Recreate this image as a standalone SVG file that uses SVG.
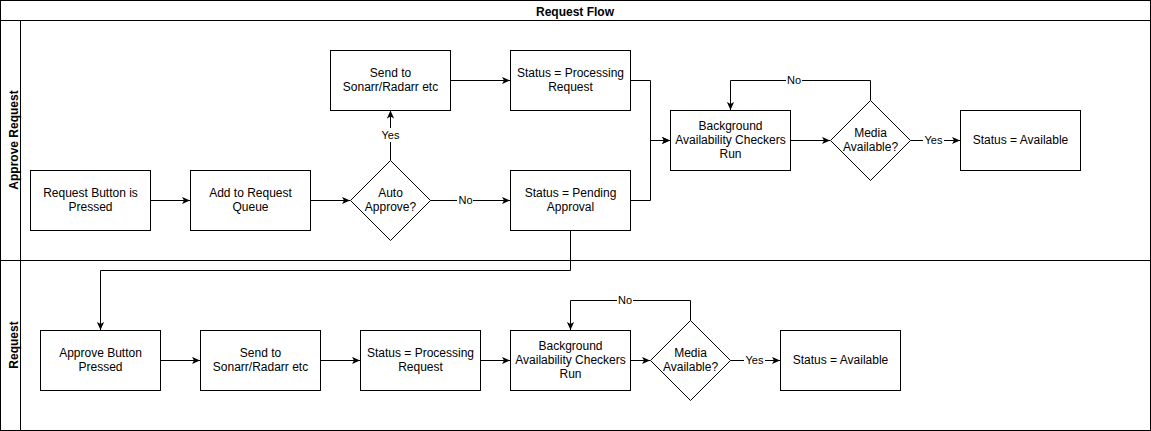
<svg xmlns="http://www.w3.org/2000/svg" width="1151" height="431" viewBox="0 0 1151 431">
<style>
.box{fill:#fff;stroke:#000;stroke-width:1}
.t{font-family:"Liberation Sans",Arial,sans-serif;font-size:12px;fill:#000;text-anchor:middle}
.h{font-family:"Liberation Sans",Arial,sans-serif;font-size:12px;font-weight:bold;fill:#000;text-anchor:middle}
.e{fill:none;stroke:#000;stroke-width:1}
.lbl{font-family:"Liberation Sans",Arial,sans-serif;font-size:11px;fill:#000;text-anchor:middle}
.lb{fill:#fff;stroke:none}
</style>
<defs>
<marker id="arr" viewBox="0 0 10 10" refX="10" refY="5" markerWidth="8" markerHeight="8" markerUnits="userSpaceOnUse" orient="auto">
<path d="M0,0.5 L10,5 L0,9.5 L2.5,5 Z" fill="#000"/>
</marker>
</defs>
<rect width="1151" height="431" fill="#fff"/>
<g id="pool">
<rect class="box" x="0.5" y="0.5" width="1150" height="430"/>
<line class="e" x1="0.5" y1="20.5" x2="1150.5" y2="20.5"/>
<text class="h" x="575" y="16">Request Flow</text>
</g>
<g id="lane-approve">
<rect class="box" x="0.5" y="20.5" width="1150" height="240"/>
<line class="e" x1="20.5" y1="20.5" x2="20.5" y2="260.5"/>
<text class="h" transform="translate(18,140) rotate(-90)">Approve Request</text>
</g>
<g id="lane-request">
<rect class="box" x="0.5" y="260.5" width="1150" height="170"/>
<line class="e" x1="20.5" y1="260.5" x2="20.5" y2="430.5"/>
<text class="h" transform="translate(18,345) rotate(-90)">Request</text>
</g>
<g id="connectors">
<path class="e" d="M150.5,200.5 H190" marker-end="url(#arr)"/>
<path class="e" d="M310.5,200.5 H350" marker-end="url(#arr)"/>
<path class="e" d="M390.5,160.5 V110.5" marker-end="url(#arr)"/>
<path class="e" d="M430.5,200.5 H510" marker-end="url(#arr)"/>
<path class="e" d="M450.5,80.5 H510" marker-end="url(#arr)"/>
<path class="e" d="M630.5,80.5 H650.5 V140.5 H670" marker-end="url(#arr)"/>
<path class="e" d="M630.5,200.5 H650.5 V140.5 H670" marker-end="url(#arr)"/>
<path class="e" d="M790.5,140.5 H830" marker-end="url(#arr)"/>
<path class="e" d="M910.5,140.5 H960" marker-end="url(#arr)"/>
<path class="e" d="M870.5,100.5 V80.5 H730.5 V110" marker-end="url(#arr)"/>
<path class="e" d="M570.5,230.5 V270.5 H100.5 V330" marker-end="url(#arr)"/>
<path class="e" d="M160.5,360.5 H200" marker-end="url(#arr)"/>
<path class="e" d="M320.5,360.5 H360" marker-end="url(#arr)"/>
<path class="e" d="M480.5,360.5 H510" marker-end="url(#arr)"/>
<path class="e" d="M630.5,360.5 H650" marker-end="url(#arr)"/>
<path class="e" d="M730.5,360.5 H780" marker-end="url(#arr)"/>
<path class="e" d="M690.5,320.5 V300.5 H570.5 V330" marker-end="url(#arr)"/>
<rect class="lb" x="380" y="128" width="21" height="14"/>
<text class="lbl" x="390.5" y="139">Yes</text>
<rect class="lb" x="457" y="193" width="16" height="14"/>
<text class="lbl" x="465.5" y="204">No</text>
<rect class="lb" x="786" y="73" width="16" height="14"/>
<text class="lbl" x="794" y="84">No</text>
<rect class="lb" x="923" y="133" width="21" height="14"/>
<text class="lbl" x="933.5" y="144">Yes</text>
<rect class="lb" x="617" y="293" width="16" height="14"/>
<text class="lbl" x="625" y="304">No</text>
<rect class="lb" x="744" y="353" width="21" height="14"/>
<text class="lbl" x="754.5" y="364">Yes</text>
</g>
<g id="n-request-button">
<rect class="box" x="30.5" y="170.5" width="120" height="60"/>
<text class="t" x="90.5" y="197">Request Button is</text>
<text class="t" x="90.5" y="211">Pressed</text>
</g>
<g id="n-add-queue">
<rect class="box" x="190.5" y="170.5" width="120" height="60"/>
<text class="t" x="250.5" y="197">Add to Request</text>
<text class="t" x="250.5" y="211">Queue</text>
</g>
<g id="n-auto-approve">
<path class="box" d="M390.5,160.5 L430.5,200.5 L390.5,240.5 L350.5,200.5 Z"/>
<text class="t" x="390.5" y="197">Auto</text>
<text class="t" x="390.5" y="211">Approve?</text>
</g>
<g id="n-send-top">
<rect class="box" x="330.5" y="50.5" width="120" height="60"/>
<text class="t" x="390.5" y="77">Send to</text>
<text class="t" x="390.5" y="91">Sonarr/Radarr etc</text>
</g>
<g id="n-processing-top">
<rect class="box" x="510.5" y="50.5" width="120" height="60"/>
<text class="t" x="570.5" y="77">Status = Processing</text>
<text class="t" x="570.5" y="91">Request</text>
</g>
<g id="n-pending">
<rect class="box" x="510.5" y="170.5" width="120" height="60"/>
<text class="t" x="570.5" y="197">Status = Pending</text>
<text class="t" x="570.5" y="211">Approval</text>
</g>
<g id="n-bg-top">
<rect class="box" x="670.5" y="110.5" width="120" height="60"/>
<text class="t" x="730.5" y="130">Background</text>
<text class="t" x="730.5" y="144">Availability Checkers</text>
<text class="t" x="730.5" y="158">Run</text>
</g>
<g id="n-media-top">
<path class="box" d="M870.5,100.5 L910.5,140.5 L870.5,180.5 L830.5,140.5 Z"/>
<text class="t" x="870.5" y="137">Media</text>
<text class="t" x="870.5" y="151">Available?</text>
</g>
<g id="n-available-top">
<rect class="box" x="960.5" y="110.5" width="120" height="60"/>
<text class="t" x="1020.5" y="144">Status = Available</text>
</g>
<g id="n-approve-button">
<rect class="box" x="40.5" y="330.5" width="120" height="60"/>
<text class="t" x="100.5" y="357">Approve Button</text>
<text class="t" x="100.5" y="371">Pressed</text>
</g>
<g id="n-send-bottom">
<rect class="box" x="200.5" y="330.5" width="120" height="60"/>
<text class="t" x="260.5" y="357">Send to</text>
<text class="t" x="260.5" y="371">Sonarr/Radarr etc</text>
</g>
<g id="n-processing-bottom">
<rect class="box" x="360.5" y="330.5" width="120" height="60"/>
<text class="t" x="420.5" y="357">Status = Processing</text>
<text class="t" x="420.5" y="371">Request</text>
</g>
<g id="n-bg-bottom">
<rect class="box" x="510.5" y="330.5" width="120" height="60"/>
<text class="t" x="570.5" y="350">Background</text>
<text class="t" x="570.5" y="364">Availability Checkers</text>
<text class="t" x="570.5" y="378">Run</text>
</g>
<g id="n-media-bottom">
<path class="box" d="M690.5,320.5 L730.5,360.5 L690.5,400.5 L650.5,360.5 Z"/>
<text class="t" x="690.5" y="357">Media</text>
<text class="t" x="690.5" y="371">Available?</text>
</g>
<g id="n-available-bottom">
<rect class="box" x="780.5" y="330.5" width="120" height="60"/>
<text class="t" x="840.5" y="364">Status = Available</text>
</g>
</svg>
